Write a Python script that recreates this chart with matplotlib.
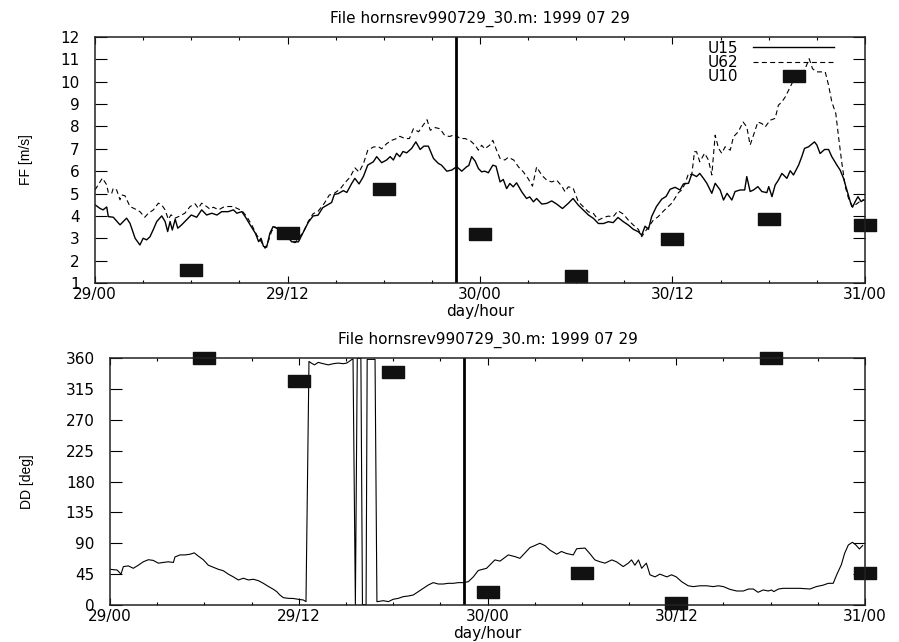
import matplotlib
matplotlib.use("Agg")
import matplotlib.pyplot as plt
from matplotlib.lines import Line2D
from matplotlib.ticker import MultipleLocator, FixedLocator
import numpy as np

TITLE = "File hornsrev990729_30.m: 1999 07 29"
DAY_TICKS = [0, 12, 24, 36, 48]
DAY_LABELS = ["29/00", "29/12", "30/00", "30/12", "31/00"]
NOW_HOUR = 22.5   # thick marker line

# wind speed, hours since 29/00
u15_h = [0.0, 0.3, 0.5, 0.73, 0.83, 1.14, 1.56, 1.97, 2.18, 2.5, 2.8, 3.0, 3.22, 3.43, 3.64,
         3.85, 4.16, 4.37, 4.53, 4.68, 4.82, 5.0, 5.16, 5.4, 5.7, 6.0, 6.34, 6.65, 6.96, 7.28,
         7.6, 7.9, 8.3, 8.63, 8.84, 9.15, 9.36, 9.67, 10.0, 10.2, 10.35, 10.5, 10.7, 10.9, 11.1,
         11.33, 11.6, 11.85, 12.26, 12.68, 12.99, 13.3, 13.6, 13.9, 14.2, 14.55, 14.75, 14.92,
         15.17, 15.48, 15.7, 16.0, 16.2, 16.46, 16.73, 17.0, 17.35, 17.56, 17.87, 18.18, 18.4,
         18.6, 18.8, 19.0, 19.2, 19.43, 19.74, 20.0, 20.27, 20.5, 20.78, 21.1, 21.4, 21.6, 21.93,
         22.24, 22.55, 22.86, 23.17, 23.3, 23.48, 23.7, 23.9, 24.1, 24.3, 24.52, 24.8, 25.0,
         25.25, 25.45, 25.66, 25.86, 26.07, 26.28, 26.6, 26.9, 27.1, 27.33, 27.53, 27.85, 28.16,
         28.47, 28.78, 29.14, 29.5, 29.8, 30.13, 30.45, 30.76, 31.07, 31.38, 31.7, 32.0, 32.3,
         32.6, 32.94, 33.25, 33.56, 33.87, 34.08, 34.29, 34.5, 34.7, 35.0, 35.33, 35.6, 35.85,
         36.16, 36.47, 36.68, 37.0, 37.2, 37.5, 37.7, 37.93, 38.14, 38.45, 38.66, 38.97, 39.18,
         39.4, 39.7, 39.9, 40.22, 40.5, 40.63, 40.84, 41.05, 41.32, 41.57, 41.88, 42.0, 42.2,
         42.4, 42.6, 42.82, 43.13, 43.34, 43.54, 43.86, 44.06, 44.23, 44.48, 44.85, 45.0, 45.2,
         45.48, 45.73, 45.93, 46.25, 46.45, 46.66, 46.87, 47.08, 47.22, 47.39, 47.56, 47.76, 47.9]
u15 = [4.5, 4.34, 4.27, 4.4, 3.97, 3.94, 3.6, 3.9, 3.67, 3.0, 2.7, 3.0, 2.93, 3.07, 3.4,
       3.75, 4.0, 3.75, 3.3, 3.75, 3.37, 3.85, 3.45, 3.6, 3.82, 4.04, 3.94, 4.27, 4.04, 4.12,
       4.04, 4.19, 4.19, 4.27, 4.12, 4.19, 3.97, 3.6, 3.22, 2.85, 3.0, 2.64, 2.6, 3.22, 3.52,
       3.45, 3.3, 3.22, 2.84, 2.84, 3.28, 3.72, 4.0, 4.03, 4.37, 4.52, 4.6, 4.96,
       5.0, 5.13, 5.05, 5.45, 5.68, 5.43, 5.76, 6.27, 6.42, 6.65, 6.38, 6.5, 6.65,
       6.5, 6.8, 6.65, 6.88, 6.82, 7.02, 7.31, 6.97, 7.12, 7.12, 6.57, 6.35, 6.27, 6.0,
       6.05, 6.2, 6.0, 6.2, 6.25, 6.65, 6.45, 6.12, 5.97, 6.0, 5.93, 6.27, 6.22,
       5.52, 5.63, 5.22, 5.45, 5.3, 5.48, 5.08, 4.78, 4.85, 4.63, 4.78, 4.53, 4.56,
       4.67, 4.53, 4.33, 4.56, 4.78, 4.48, 4.26, 4.04, 3.89, 3.66, 3.66, 3.74, 3.7,
       3.93, 3.74, 3.59, 3.4, 3.29, 3.14, 3.54, 3.4, 3.97, 4.42, 4.75, 4.87, 5.19,
       5.28, 5.16, 5.43, 5.46, 5.87, 5.76, 5.9, 5.68, 5.46, 5.01, 5.46, 5.16, 4.71,
       5.01, 4.71, 5.09, 5.16, 5.16, 5.76, 5.09, 5.16, 5.31, 5.09, 5.04, 5.31, 4.86,
       5.38, 5.6, 5.9, 5.68, 6.02, 5.83, 6.27, 6.65, 7.02, 7.09, 7.31, 7.17, 6.79,
       6.97, 6.97, 6.65, 6.27, 6.05, 5.68, 5.16, 4.64, 4.39, 4.64, 4.86, 4.64, 4.71]

u62_h = [0.0, 0.2, 0.46, 0.73, 0.83, 1.04, 1.14, 1.35, 1.56, 1.66, 1.87, 2.18, 2.5, 2.8, 3.1,
         3.33, 3.64, 3.95, 4.16, 4.37, 4.57, 4.74, 5.0, 5.3, 5.6, 5.93, 6.24, 6.44, 6.65, 6.96,
         7.17, 7.38, 7.7, 8.0, 8.3, 8.63, 8.84, 9.15, 9.46, 9.77, 10.08, 10.4, 10.6, 10.8, 11.0,
         11.2, 11.6, 11.85, 12.27, 12.47, 12.99, 13.3, 13.6, 13.9, 14.3, 14.6, 14.9, 15.28, 15.6,
         15.9, 16.2, 16.46, 16.73, 17.0, 17.35, 17.66, 17.87, 18.18, 18.5, 18.8, 19.0, 19.32,
         19.6, 19.85, 20.17, 20.4, 20.7, 20.9, 21.2, 21.5, 21.8, 22.1, 22.45, 22.75, 23.07, 23.4,
         23.7, 23.9, 24.1, 24.3, 24.6, 24.8, 25.0, 25.25, 25.55, 25.76, 26.1, 26.4, 26.7, 27.0,
         27.27, 27.53, 27.85, 28.16, 28.47, 28.78, 29.1, 29.3, 29.5, 29.8, 30.13, 30.45, 30.76,
         31.07, 31.38, 31.7, 32.0, 32.3, 32.6, 32.94, 33.25, 33.56, 33.87, 34.08, 34.29, 34.5,
         34.8, 35.1, 35.33, 35.6, 35.96, 36.16, 36.37, 36.58, 36.79, 37.0, 37.2, 37.37, 37.5,
         37.7, 38.0, 38.24, 38.45, 38.66, 38.87, 39.07, 39.28, 39.6, 39.8, 40.1, 40.4, 40.63,
         40.84, 41.05, 41.32, 41.57, 41.78, 42.09, 42.4, 42.6, 42.82, 43.03, 43.34, 43.54, 43.75,
         44.06, 44.27, 44.52, 44.73, 45.0, 45.3, 45.52, 45.73, 45.93, 46.18, 46.35, 46.56, 46.77,
         46.97, 47.18, 47.39, 47.6, 47.8, 48.0]
u62 = [5.16, 5.39, 5.69, 5.39, 5.04, 5.01, 5.24, 5.16, 4.72, 4.94, 4.9, 4.42, 4.31, 4.19, 3.94,
       4.12, 4.27, 4.57, 4.49, 4.27, 3.85, 4.05, 3.9, 4.0, 4.12, 4.42, 4.54, 4.34, 4.57, 4.42,
       4.3, 4.39, 4.27, 4.39, 4.42, 4.42, 4.34, 4.24, 3.97, 3.6, 3.15, 2.8, 2.55, 2.85, 3.3,
       3.52, 3.3, 3.2, 2.85, 2.8, 3.28, 3.76, 4.1, 4.2, 4.57, 4.93, 5.0, 5.2, 5.5,
       5.73, 6.15, 5.96, 6.33, 6.93, 7.08, 7.1, 7.0, 7.23, 7.38, 7.46, 7.56, 7.46,
       7.46, 7.9, 7.76, 8.0, 8.3, 7.83, 7.95, 7.9, 7.6, 7.55, 7.64, 7.46, 7.46, 7.36,
       7.16, 6.94, 7.16, 7.0, 7.16, 7.38, 7.0, 6.57, 6.5, 6.62, 6.5, 6.19, 5.97, 5.67,
       5.33, 6.19, 5.82, 5.6, 5.52, 5.6, 5.33, 5.08, 5.3, 5.25, 4.63, 4.4, 4.18,
       4.11, 3.81, 3.93, 3.99, 3.96, 4.23, 4.08, 3.81, 3.59, 3.4, 3.07, 3.3, 3.49,
       3.81, 3.96, 4.14, 4.33, 4.57, 4.8, 5.04, 5.16, 5.46, 5.9, 5.83, 6.87, 6.87,
       6.42, 6.8, 6.5, 5.83, 7.61, 7.02, 6.8, 7.09, 6.94, 7.54, 7.76, 8.2, 7.98,
       7.17, 7.61, 8.2, 8.13, 7.98, 8.28, 8.36, 8.95, 9.1, 9.32, 9.77, 10.06, 10.13,
       10.36, 10.58, 11.03, 10.58, 10.44, 10.44, 10.44, 9.84, 9.1, 8.58, 7.54, 6.35, 5.31,
       4.79, 4.42, 4.49, 4.6, 4.71, 4.71]

# 6-hourly 10 m values
u10_h = [6, 12, 18, 24, 30, 36, 42, 48]
u10 = [1.6, 3.25, 5.2, 3.2, 1.3, 2.95, 3.85, 3.6]

# wind direction
dd_h = [0.0, 0.45, 0.7, 0.85, 1.17, 1.48, 1.8, 2.12, 2.44, 2.75, 3.07, 3.39, 3.7, 4.03, 4.13,
        4.45, 4.77, 5.09, 5.36, 5.6, 5.93, 6.25, 6.57, 6.89, 7.2, 7.52, 7.84, 8.16, 8.48, 8.8,
        9.11, 9.43, 9.75, 10.07, 10.38, 10.6, 10.8, 11.02, 11.34, 11.65, 11.97, 12.29, 12.46,
        12.65, 12.8, 13.0, 13.24, 13.56, 13.88, 14.2, 14.5, 14.83, 15.05, 15.36, 15.45, 15.6,
        15.72, 15.95, 16.05, 16.28, 16.35, 16.85, 16.97, 17.38, 17.7, 18.0, 18.33, 18.65, 18.97,
        19.28, 19.6, 19.92, 20.24, 20.55, 20.87, 21.19, 21.5, 21.83, 22.14, 22.46, 22.78, 23.1,
        23.4, 23.52, 23.94, 24.47, 24.8, 25.32, 25.75, 26.06, 26.7, 27.0, 27.33, 27.65, 27.97,
        28.4, 28.7, 29.03, 29.45, 29.67, 30.2, 30.5, 30.83, 31.15, 31.47, 31.9, 32.2, 32.63,
        32.95, 33.16, 33.37, 33.6, 33.8, 34.1, 34.33, 34.65, 34.96, 35.4, 35.7, 36.0, 36.34,
        36.76, 37.08, 37.5, 37.93, 38.35, 38.67, 39.0, 39.4, 39.84, 40.26, 40.6, 40.9, 41.2,
        41.53, 41.85, 42.06, 42.2, 42.5, 42.8, 43.33, 43.86, 44.5, 44.9, 45.35, 45.66, 45.98,
        46.2, 46.5, 46.7, 46.94, 47.2, 47.42, 47.64, 47.85]
dd = [52, 51, 45, 56, 57, 53.5, 58, 63, 66, 65, 61, 62, 63, 62, 70,
      73, 73, 74, 76, 71.5, 66, 58, 55, 52, 50, 45, 41, 36.5, 39, 36.5,
      37.5, 35.5, 31.6, 27, 23, 19.5, 14.6, 10.7, 9.7, 9.5, 8.3, 7.3, 4.9,
      355, 352.6, 350, 353.6, 351.7, 350, 351.7, 352.6, 351.7, 352.6, 357.5, 359, 0.5,
      359.5, 359.5, 0.5, 0.5, 358, 358, 4.8, 6.3, 4.9, 8.3, 9.7, 12.2, 13.1,
      14.6, 19.5, 24.3, 29.2, 32.6, 30.6, 30.6, 31.6, 31.6, 32.6, 32.6, 34, 41,
      50, 51, 53.5, 65.7, 64, 73, 70.5, 68, 83.7, 86.6, 90, 86.6, 80,
      74, 78, 75, 73, 82, 83, 75, 65.7, 63, 61, 65.7, 63, 56,
      61, 65.7, 58, 65.7, 53.5, 61, 44, 41, 45, 41, 44, 41, 34,
      28, 26.8, 28, 28, 26.8, 28, 26.8, 22.9, 20.4, 20.4, 23.3, 23.3, 18.5,
      21.9, 20.4, 21.9, 19.5, 23.3, 24.3, 24.3, 24.3, 23.3, 26.8, 29, 31.6, 31.6,
      44, 59, 75, 87.5, 91.4, 87.5, 81.7, 86.6]

dd10_h = [6, 12, 18, 24, 30, 36, 42, 48]
dd10 = [360, 326, 339, 19, 47, 3, 360, 47]

plt.rcParams['font.family'] = ['DejaVu Sans']
plt.rcParams['font.size'] = 11

# wide flat box used for the 6-hourly points
BOX = [(-1, -0.5), (1, -0.5), (1, 0.5), (-1, 0.5), (-1, -0.5)]


def style_axes(ax, ymin, ymax, ystep):
	ax.set_xlim(0, 48)
	ax.set_ylim(ymin, ymax)
	ax.xaxis.set_major_locator(FixedLocator(DAY_TICKS))
	ax.set_xticklabels(DAY_LABELS)
	ax.xaxis.set_minor_locator(MultipleLocator(3))
	ax.yaxis.set_major_locator(MultipleLocator(ystep))
	ax.tick_params(axis='x', which='major', direction='in', length=4.7, width=0.8,
	               top=True, pad=3)
	ax.tick_params(axis='x', which='minor', direction='in', length=2.4, width=0.8, top=True)
	ax.tick_params(axis='y', which='major', direction='in', length=8.4, width=0.8,
	               right=True, pad=11)
	for sp in ax.spines.values():
		sp.set_linewidth(1.1)
		sp.set_color('#222222')
	ax.set_title(TITLE, fontsize=11, pad=10)
	ax.set_xlabel("day/hour", fontsize=11)
	ax.xaxis.set_label_coords(0.5, -0.085)


fig = plt.figure(figsize=(8.99, 6.42), dpi=100)

# top panel: wind speed
ax1 = fig.add_axes([95/899, 1 - 283/642, 770/899, 246/642])
ax1.plot(u15_h, u15, color='black', lw=1.0, label='U15')
ax1.plot(u62_h, u62, color='black', lw=0.8, ls=(0, (4.5, 3)), label='U62')
ax1.plot(u10_h, u10, ls='none', marker=BOX, ms=16.3, color='#111111', clip_on=False,
         label='U10')
ax1.axvline(NOW_HOUR, color='black', lw=2.0)
style_axes(ax1, 1, 12, 1)
ax1.set_ylabel("FF [m/s]", family='Liberation Sans', fontsize=10)
ax1.yaxis.set_label_coords(-0.08, 0.5)
handles = [Line2D([], [], color='black', lw=1.0),
           Line2D([], [], color='black', lw=0.8, ls=(0, (4.5, 3))),
           Line2D([], [], ls='none', marker=BOX, ms=16.3, color='#111111')]
ax1.legend(handles, ['U15', 'U62', 'U10'], loc='upper right', bbox_to_anchor=(0.96, 0.985),
           markerfirst=False, frameon=False, handlelength=5.3, handletextpad=1.0,
           labelspacing=-0.05, borderpad=0, borderaxespad=0, fontsize=11, numpoints=1)

# bottom panel: wind direction
ax2 = fig.add_axes([110/899, 1 - 605/642, 755/899, 247/642])
ax2.plot(dd_h, dd, color='black', lw=0.8)
ax2.plot(dd10_h, dd10, ls='none', marker=BOX, ms=16.3, color='#111111', clip_on=False)
ax2.axvline(NOW_HOUR, color='black', lw=2.0)
style_axes(ax2, 0, 360, 45)
ax2.set_ylabel("DD [deg]", family='Liberation Sans', fontsize=10)
ax2.yaxis.set_label_coords(-0.1, 0.5)

fig.savefig("out.png", dpi=100)
